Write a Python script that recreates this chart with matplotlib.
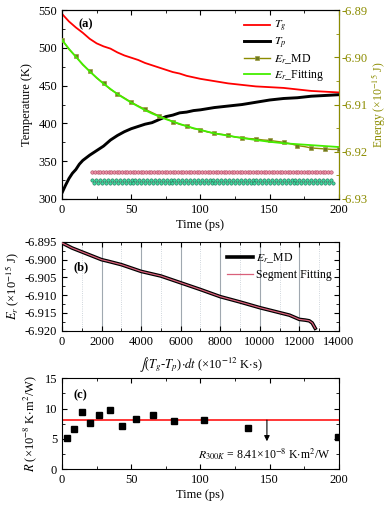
import numpy as np
import matplotlib
matplotlib.use("Agg")
import matplotlib.pyplot as plt
from matplotlib.ticker import MultipleLocator

plt.rcParams['font.family'] = ['Liberation Serif', 'DejaVu Serif']
plt.rcParams['mathtext.fontset'] = 'stix'
plt.rcParams['font.size'] = 9
plt.rcParams['xtick.direction'] = 'in'
plt.rcParams['ytick.direction'] = 'in'

# ---------------- panel (a) data ----------------
t_g = [0, 2.5, 5, 7.5, 10, 15, 20, 25, 30, 35, 40, 45, 50, 55, 60, 65, 70, 75, 80, 85, 90, 95,
       100, 110, 120, 130, 140, 150, 160, 170, 180, 190, 200]
T_g = [545, 540, 535, 531, 527, 520, 512, 506, 502, 499, 494, 490, 487, 484, 480, 477, 474, 471,
       468, 466, 463, 461, 459, 456, 453, 451, 449, 448, 447, 445, 443, 442, 441]
t_p = [0, 2.5, 5, 7.5, 10, 12.5, 15, 20, 25, 30, 35, 40, 45, 50, 55, 60, 65, 70, 75, 80, 85, 90,
       95, 100, 110, 120, 130, 140, 150, 160, 170, 180, 190, 200]
T_p = [308, 318, 327, 334, 339, 346, 351, 358, 364, 370, 378, 384, 389, 393, 396, 399, 401, 405,
       409, 411, 414, 415, 417, 418, 421, 423, 425, 428, 431, 433, 434, 436, 437, 438]
t_e = [0, 5, 10, 15, 20, 25, 30, 35, 40, 45, 50, 55, 60, 65, 70, 75, 80, 85, 90, 95, 100,
       105, 110, 115, 120, 125, 130, 135, 140, 145, 150, 155, 160, 165, 170, 175, 180, 185, 190, 195, 200]
E_md = [-6.8963, -6.8983, -6.8998, -6.9016, -6.9029, -6.9044, -6.9055, -6.9068, -6.9077, -6.9086,
        -6.9095, -6.9103, -6.9110, -6.9117, -6.9124, -6.9130, -6.9136, -6.9142, -6.9145, -6.9151,
        -6.9153, -6.9158, -6.9161, -6.9163, -6.9165, -6.9169, -6.9170, -6.9172, -6.9173, -6.9175,
        -6.9176, -6.9178, -6.9180, -6.9183, -6.9187, -6.9189, -6.9192, -6.9193, -6.9194, -6.9195, -6.9195]
t_fit = [0, 5, 10, 15, 20, 25, 30, 35, 40, 45, 50, 55, 60, 65, 70, 75, 80, 85, 90, 95, 100,
         110, 120, 130, 140, 150, 160, 170, 180, 190, 200]
E_fit = [-6.8963, -6.8982, -6.8999, -6.9015, -6.9030, -6.9043, -6.9056, -6.9067, -6.9078, -6.9087,
         -6.9096, -6.9104, -6.9112, -6.9119, -6.9125, -6.9131, -6.9136, -6.9141, -6.9146, -6.9150,
         -6.9154, -6.9161, -6.9166, -6.9171, -6.9175, -6.9179, -6.9182, -6.9184, -6.9186, -6.9188, -6.9190]
# stray marker rows seen in panel (a)
stray_t_range = [22, 194]
stray_pink_T = 335.5
stray_teal_T = [325.5, 320.5]

# ---------------- panel (b) data ----------------
int_x = [0, 500, 1000, 2000, 2300, 3000, 4000, 5000, 6000, 7000, 8000, 9000, 10000, 11000,
         11500, 12000, 12300, 12500, 12650, 12800]
E_r = [-6.8953, -6.8967, -6.8978, -6.9000, -6.9004, -6.9014, -6.9033, -6.9046, -6.9065, -6.9084,
       -6.9104, -6.9119, -6.9135, -6.9149, -6.9156, -6.9168, -6.9170, -6.9172, -6.9178, -6.9193]

# ---------------- panel (c) data ----------------
t_R = [3.8, 8.7, 14.2, 20.2, 27.0, 34.4, 43.1, 53.2, 65.5, 80.9, 102.3, 134.5, 199.5]
R_vals = [5.2, 6.6, 9.45, 7.6, 9.0, 9.8, 7.1, 8.2, 8.9, 7.9, 8.1, 6.8, 5.3]
R_mean_line = 8.1
arrow_t = 148
arrow_end = 4.6

olive = '#8C8C00'

fig = plt.figure(figsize=(3.9, 5.05), dpi=100)
L, W = 0.159, 0.710
axA = fig.add_axes([L, 0.606, W, 0.374])
axB = fig.add_axes([L, 0.345, W, 0.176])
axC = fig.add_axes([L, 0.071, W, 0.180])

# ---- (a)
axA.plot(t_g, T_g, color='red', lw=1.3, label=r'$T_g$', zorder=3)
axA.plot(t_p, T_p, color='black', lw=2.1, label=r'$T_p$', zorder=3)
# stray markers
ts = np.linspace(stray_t_range[0], stray_t_range[1], 90)
axA.plot(ts, [stray_pink_T] * len(ts), ls='none', marker='o', ms=2.5, mfc='#EE8FA6',
         mec='#A84860', mew=0.4, zorder=2)
tt = np.linspace(stray_t_range[0], stray_t_range[1], 62)
axA.plot(tt, [stray_teal_T[0]] * len(tt), ls='none', marker='o', ms=2.4, mfc='#3ED9A0',
         mec='#1E6E50', mew=0.4, zorder=2)
axA.plot(tt + 1.4, [stray_teal_T[1]] * len(tt), ls='none', marker='o', ms=2.4, mfc='#3ED9A0',
         mec='#1E6E50', mew=0.4, zorder=2)
axA.set_xlim(0, 200)
axA.set_ylim(300, 550)
axA.xaxis.set_major_locator(MultipleLocator(50))
axA.xaxis.set_minor_locator(MultipleLocator(25))
axA.yaxis.set_major_locator(MultipleLocator(50))
axA.yaxis.set_minor_locator(MultipleLocator(25))
axA.tick_params(which='both', top=True, right=False)
axA.tick_params(which='major', length=3.5)
axA.tick_params(which='minor', length=2)
axA.set_xlabel('Time (ps)', labelpad=2)
axA.set_ylabel('Temperature (K)', labelpad=4)
axA.text(0.06, 0.955, '(a)', transform=axA.transAxes, fontweight='bold', va='top', fontsize=9)

axA2 = axA.twinx()
axA2.plot(t_e, E_md, color=olive, lw=1.0, marker='s', ms=3, markevery=2, mfc='#6E7A20',
          mec='#9A9A40', mew=0.5, label=r'$E_r$_MD', zorder=3)
axA2.plot(t_fit, E_fit, color='#44EE00', lw=1.3, label=r'$E_r$_Fitting', zorder=4)
axA2.set_ylim(-6.93, -6.89)
axA2.yaxis.set_major_locator(MultipleLocator(0.01))
axA2.yaxis.set_minor_locator(MultipleLocator(0.005))
axA2.tick_params(axis='y', which='both', colors=olive)
axA2.tick_params(which='major', length=3.5, pad=2)
axA2.tick_params(which='minor', length=2)
axA2.spines['right'].set_color(olive)
axA2.set_ylabel(r'Energy (×10$^{-15}$ J)', color=olive, labelpad=1, fontsize=8.5)
axA2.yaxis.set_major_formatter(matplotlib.ticker.FuncFormatter(lambda v, p: f'{v:.2f}'))

h1, l1 = axA.get_legend_handles_labels()
h2, l2 = axA2.get_legend_handles_labels()
axA2.legend(h1 + h2, l1 + l2, loc='upper right', frameon=False, fontsize=8.5,
            handlelength=2.2, handletextpad=0.3, labelspacing=0.15,
            bbox_to_anchor=(0.97, 0.99), borderaxespad=0.2)

# ---- (b)
axB.plot(int_x, E_r, color='black', lw=2.6, label=r'$E_r$_MD', zorder=3)
axB.plot(int_x, E_r, color='#D9607A', lw=0.9, label='Segment Fitting', zorder=4)
axB.set_xlim(0, 14000)
axB.set_ylim(-6.920, -6.895)
axB.xaxis.set_major_locator(MultipleLocator(2000))
axB.xaxis.set_minor_locator(MultipleLocator(1000))
axB.yaxis.set_major_locator(MultipleLocator(0.005))
axB.yaxis.set_minor_locator(MultipleLocator(0.0025))
axB.yaxis.set_major_formatter(matplotlib.ticker.FuncFormatter(lambda v, p: f'{v:.3f}'))
axB.grid(axis='x', which='major', color='#A0A8B0', lw=0.8, ls='-')
axB.grid(axis='x', which='minor', color='#C0C8D0', lw=0.6, ls=':')
axB.set_axisbelow(True)
axB.tick_params(which='both', top=True, right=True)
axB.tick_params(which='major', length=3.5)
axB.tick_params(which='minor', length=2)
axB.set_xlabel(r'$\int$($T_g$-$T_p$)$\cdot dt$ (×10$^{-12}$ K$\cdot$s)', labelpad=6)
axB.set_ylabel(r'$E_r$ (×10$^{-15}$ J)', labelpad=2)
axB.text(0.04, 0.78, '(b)', transform=axB.transAxes, fontweight='bold', va='top', fontsize=9)
axB.legend(loc='upper right', frameon=False, fontsize=8.5, handlelength=2.2,
           handletextpad=0.3, labelspacing=0.3, bbox_to_anchor=(1.0, 0.97), borderaxespad=0.2)

# ---- (c)
axC.plot(t_R, R_vals, ls='none', marker='s', ms=4.5, color='black', clip_on=True, zorder=3)
axC.axhline(R_mean_line, color='red', lw=1.1, zorder=2)
axC.annotate('', xy=(arrow_t, arrow_end), xytext=(arrow_t, R_mean_line),
             arrowprops=dict(arrowstyle='-|>', color='black', lw=0.8, mutation_scale=8,
                             shrinkA=0, shrinkB=0))
axC.text(146, 2.5, r'$R_{300K}$ = 8.41×10$^{-8}$ K$\cdot$m$^2$/W', ha='center', va='center',
         fontsize=8.5)
axC.set_xlim(0, 200)
axC.set_ylim(0, 15)
axC.xaxis.set_major_locator(MultipleLocator(50))
axC.xaxis.set_minor_locator(MultipleLocator(25))
axC.yaxis.set_major_locator(MultipleLocator(5))
axC.yaxis.set_minor_locator(MultipleLocator(2.5))
axC.tick_params(which='both', top=True, right=True)
axC.tick_params(which='major', length=3.5)
axC.tick_params(which='minor', length=2)
axC.set_xlabel('Time (ps)', labelpad=2)
axC.set_ylabel(r'$R$ (×10$^{-8}$ K$\cdot$m$^2$/W)', labelpad=4)
axC.text(0.04, 0.88, '(c)', transform=axC.transAxes, fontweight='bold', va='top', fontsize=9)

fig.savefig('out.png', dpi=100)
